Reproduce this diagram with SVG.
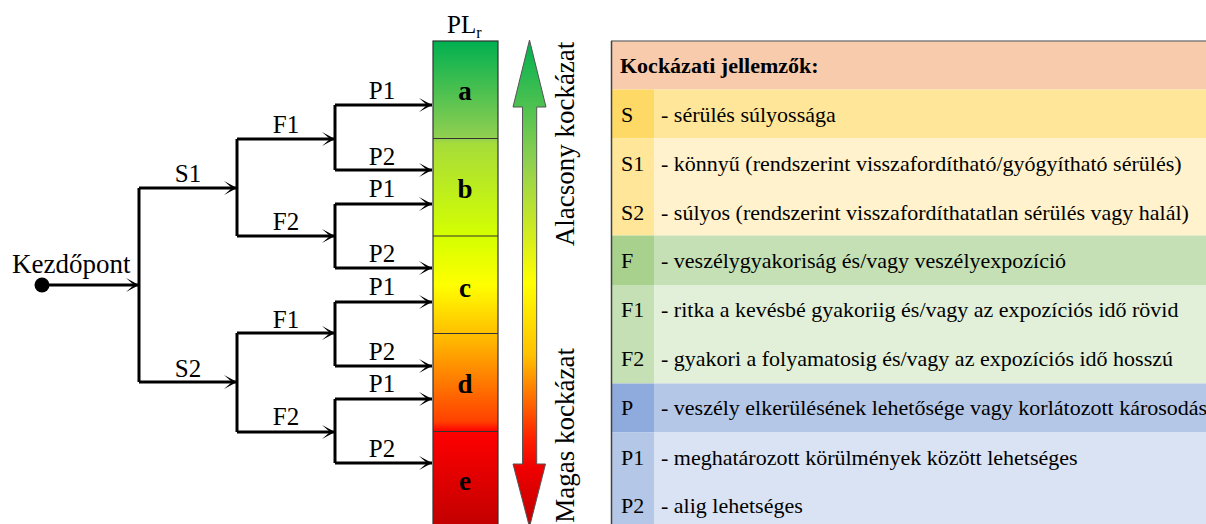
<svg xmlns="http://www.w3.org/2000/svg" width="1206" height="524" viewBox="0 0 1206 524">
<defs>
<style>
.t{font-family:"Liberation Serif","Times New Roman",serif;fill:#000}
.lbl{font-size:25px;text-anchor:middle}
.tb{font-size:22px}
.ln{fill:none;stroke:#000;stroke-width:3;marker-end:url(#ah)}
.ln2{fill:none;stroke:#000;stroke-width:3}
</style>
<marker id="ah" markerUnits="userSpaceOnUse" markerWidth="16" markerHeight="16" refX="14" refY="8" orient="auto">
<path d="M14,8 L1,1 L9,8 L1,15 Z" fill="#000"/>
</marker>
<linearGradient id="barg" x1="0" y1="41" x2="0" y2="529" gradientUnits="userSpaceOnUse">
<stop offset="0" stop-color="#00b050"/>
<stop offset="0.2" stop-color="#92d050"/>
<stop offset="0.21" stop-color="#a6dc3a"/>
<stop offset="0.4" stop-color="#d4ff00"/>
<stop offset="0.5" stop-color="#ffff00"/>
<stop offset="0.6" stop-color="#ffc000"/>
<stop offset="0.78" stop-color="#ff4000"/>
<stop offset="0.8" stop-color="#ff0000"/>
<stop offset="1" stop-color="#c00000"/>
</linearGradient>
<linearGradient id="arrg" x1="0" y1="40" x2="0" y2="526" gradientUnits="userSpaceOnUse">
<stop offset="0" stop-color="#00b050"/>
<stop offset="0.25" stop-color="#8fd050"/>
<stop offset="0.5" stop-color="#ffff00"/>
<stop offset="0.65" stop-color="#ffc000"/>
<stop offset="0.82" stop-color="#ff2000"/>
<stop offset="0.88" stop-color="#f00000"/>
<stop offset="1" stop-color="#c00000"/>
</linearGradient>
</defs>

<g id="start-node">
<circle cx="42" cy="285" r="7.5" fill="#000"/>
<text class="t" x="12" y="273" font-size="27">Kezdőpont</text>
</g>

<g id="connectors">
<path class="ln" d="M42,285 H139"/>
<path class="ln2" d="M139,188 V382"/>
<path class="ln" d="M139,188 H237"/>
<path class="ln" d="M139,382 H237"/>
<path class="ln2" d="M237,139 V236"/>
<path class="ln2" d="M237,333 V432"/>
<path class="ln" d="M237,139 H335"/>
<path class="ln" d="M237,236 H335"/>
<path class="ln" d="M237,333 H335"/>
<path class="ln" d="M237,432 H335"/>
<path class="ln2" d="M335,105 V170"/>
<path class="ln2" d="M335,204 V268"/>
<path class="ln2" d="M335,302 V366"/>
<path class="ln2" d="M335,399 V463"/>
<path class="ln" d="M335,105 H432"/>
<path class="ln" d="M335,170 H432"/>
<path class="ln" d="M335,204 H432"/>
<path class="ln" d="M335,268 H432"/>
<path class="ln" d="M335,302 H432"/>
<path class="ln" d="M335,366 H432"/>
<path class="ln" d="M335,399 H432"/>
<path class="ln" d="M335,463 H432"/>
</g>

<g id="tree-labels">
<text class="t lbl" x="188" y="182">S1</text>
<text class="t lbl" x="188" y="377">S2</text>
<text class="t lbl" x="286" y="133">F1</text>
<text class="t lbl" x="286" y="230">F2</text>
<text class="t lbl" x="286" y="328">F1</text>
<text class="t lbl" x="286" y="425">F2</text>
<text class="t lbl" x="382" y="99">P1</text>
<text class="t lbl" x="382" y="165">P2</text>
<text class="t lbl" x="382" y="197">P1</text>
<text class="t lbl" x="382" y="262">P2</text>
<text class="t lbl" x="382" y="295">P1</text>
<text class="t lbl" x="382" y="360">P2</text>
<text class="t lbl" x="382" y="392">P1</text>
<text class="t lbl" x="382" y="457">P2</text>
</g>

<g id="pl-bar">
<text class="t" x="447" y="33" font-size="25">PL<tspan font-size="16" dy="5">r</tspan></text>
<rect x="433" y="41" width="65" height="490" fill="url(#barg)" stroke="#333" stroke-width="1.2"/>
<path d="M433,138.5 H498 M433,236 H498 M433,333.5 H498 M433,431.5 H498" stroke="#333" stroke-width="1.2"/>
<g class="t" font-size="27" font-weight="bold" text-anchor="middle">
<text x="465" y="100">a</text>
<text x="465" y="198">b</text>
<text x="465" y="297">c</text>
<text x="465" y="393">d</text>
<text x="465" y="490">e</text>
</g>
</g>

<g id="risk-arrow">
<path d="M529.5,40 L546,107 L536.7,107 L536.7,464 L545.5,464 L529.5,527 L513,464 L522.5,464 L522.5,107 L513,107 Z" fill="url(#arrg)" stroke="#555" stroke-width="1"/>
<text class="t" font-size="27" text-anchor="middle" transform="translate(574,144) rotate(-90)">Alacsony kockázat</text>
<text class="t" font-size="27" text-anchor="end" transform="translate(574,348) rotate(-90)">Magas kockázat</text>
</g>

<g id="legend-table">
<g id="row-header">
<rect x="611" y="41" width="600" height="48.5" fill="#f8cbad"/>
<text class="t tb" x="620" y="73" font-weight="bold">Kockázati jellemzők:</text>
</g>
<g id="row-S">
<rect x="611" y="89.5" width="43" height="49" fill="#ffd966"/>
<rect x="654" y="89.5" width="557" height="49" fill="#ffe699"/>
<text class="t tb" x="621" y="122">S</text>
<text class="t tb" x="661" y="122">- sérülés súlyossága</text>
</g>
<g id="row-S12">
<rect x="611" y="138.5" width="43" height="97" fill="#ffe699"/>
<rect x="654" y="138.5" width="557" height="97" fill="#fff2cc"/>
<text class="t tb" x="621" y="171">S1</text>
<text class="t tb" x="661" y="171">- könnyű (rendszerint visszafordítható/gyógyítható sérülés)</text>
<text class="t tb" x="621" y="220">S2</text>
<text class="t tb" x="661" y="220">- súlyos (rendszerint visszafordíthatatlan sérülés vagy halál)</text>
</g>
<g id="row-F">
<rect x="611" y="235.5" width="43" height="49.5" fill="#a9d18e"/>
<rect x="654" y="235.5" width="557" height="49.5" fill="#c5e0b4"/>
<text class="t tb" x="621" y="268">F</text>
<text class="t tb" x="661" y="268">- veszélygyakoriság és/vagy veszélyexpozíció</text>
</g>
<g id="row-F12">
<rect x="611" y="285" width="43" height="98.5" fill="#c5e0b4"/>
<rect x="654" y="285" width="557" height="98.5" fill="#e2f0d9"/>
<text class="t tb" x="621" y="317">F1</text>
<text class="t tb" x="661" y="317">- ritka a kevésbé gyakoriig és/vagy az expozíciós idő rövid</text>
<text class="t tb" x="621" y="366">F2</text>
<text class="t tb" x="661" y="366">- gyakori a folyamatosig és/vagy az expozíciós idő hosszú</text>
</g>
<g id="row-P">
<rect x="611" y="383.5" width="43" height="49" fill="#8faadc"/>
<rect x="654" y="383.5" width="557" height="49" fill="#b4c7e7"/>
<text class="t tb" x="621" y="415">P</text>
<text class="t tb" x="661" y="415">- veszély elkerülésének lehetősége vagy korlátozott károsodás</text>
</g>
<g id="row-P12">
<rect x="611" y="432.5" width="43" height="95" fill="#b4c7e7"/>
<rect x="654" y="432.5" width="557" height="95" fill="#dae3f3"/>
<text class="t tb" x="621" y="465">P1</text>
<text class="t tb" x="661" y="465">- meghatározott körülmények között lehetséges</text>
<text class="t tb" x="621" y="513">P2</text>
<text class="t tb" x="661" y="513">- alig lehetséges</text>
</g>
<path d="M611,41 H1206" stroke="#7f7f7f" stroke-width="1.5"/>
<path d="M611.5,41 V530" stroke="#404040" stroke-width="1.5"/>
</g>
</svg>
